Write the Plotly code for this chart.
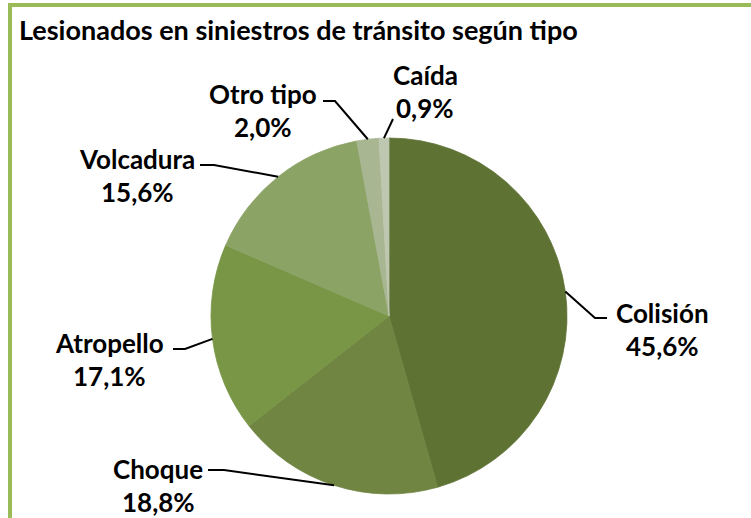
import math
import plotly.graph_objects as go

# ---- data ----
categories = ["Colisión", "Choque", "Atropello", "Volcadura", "Otro tipo", "Caída"]
values = [45.6, 18.8, 17.1, 15.6, 2.0, 0.9]
colors = ["#5E7234", "#708542", "#799646", "#8BA365", "#A8B692", "#BEC7AF"]
title_text = "Lesionados en siniestros de tránsito según tipo"

# ---- layout (pixels) ----
W, H = 751, 518
CX, CY, R = 389, 316, 178          # pie centre / radius in px (from top)
# label block centres (name line) and leader elbow / label-end points
label_pos = [(662, 313), (158, 469), (110, 343), (137, 159), (263, 94), (425, 75)]
leader_pts = [
    [(607, 318), (595, 318)],
    [(208, 470), (224, 470)],
    [(173, 349), (185, 349)],
    [(200, 165), (214, 165)],
    [(323, 101), (335, 101)],
    [(393, 119)],
]
LINE_GAP = 33
FONT = "Lato"
FSIZE = 26
TITLE_SIZE = 27

def px(x):
    return x / W

def py(y):
    return 1 - y / H

fig = go.Figure(go.Pie(
    labels=categories,
    values=values,
    sort=False,
    direction="clockwise",
    rotation=0,
    marker=dict(colors=colors, line=dict(color=colors, width=0.8)),
    textinfo="none",
    hoverinfo="label+percent",
    domain=dict(x=[px(CX - R), px(CX + R)], y=[py(CY + R), py(CY - R)]),
    showlegend=False,
))

annotations = []
shapes = []

# frame
frame_col = "#9BBB59"
shapes.append(dict(type="rect", xref="paper", yref="paper",
                   x0=px(8), x1=px(W), y0=py(7), y1=py(3),
                   fillcolor=frame_col, line=dict(width=0), layer="below"))
shapes.append(dict(type="rect", xref="paper", yref="paper",
                   x0=px(8), x1=px(12), y0=py(H), y1=py(3),
                   fillcolor=frame_col, line=dict(width=0), layer="below"))

# title
annotations.append(dict(text=f"<b>{title_text}</b>", xref="paper", yref="paper",
                        x=px(17), y=py(30), xanchor="left", yanchor="middle",
                        showarrow=False, font=dict(family=FONT, size=TITLE_SIZE, color="#000")))

total = sum(values)
cum = 0.0
for i, (cat, v) in enumerate(zip(categories, values)):
    mid = (cum + v / 2) / total * 2 * math.pi
    cum += v
    ex = CX + R * math.sin(mid)
    ey = CY - R * math.cos(mid)
    pts = leader_pts[i] + [(ex, ey)]
    path = "M " + " L ".join(f"{px(x):.5f},{py(y):.5f}" for x, y in pts)
    shapes.append(dict(type="path", xref="paper", yref="paper", path=path,
                       line=dict(color="#000", width=2)))
    lx, ly = label_pos[i]
    pct = f"{v:.1f}".replace(".", ",") + "%"
    annotations.append(dict(text=f"<b>{cat}</b>", xref="paper", yref="paper",
                            x=px(lx), y=py(ly), xanchor="center", yanchor="middle",
                            showarrow=False, font=dict(family=FONT, size=FSIZE, color="#000")))
    annotations.append(dict(text=f"<b>{pct}</b>", xref="paper", yref="paper",
                            x=px(lx), y=py(ly + LINE_GAP), xanchor="center", yanchor="middle",
                            showarrow=False, font=dict(family=FONT, size=FSIZE, color="#000")))

fig.update_layout(
    width=W, height=H,
    margin=dict(l=0, r=0, t=0, b=0),
    paper_bgcolor="white",
    plot_bgcolor="white",
    annotations=annotations,
    shapes=shapes,
)

fig.write_html("out.html", config={"displayModeBar": False},
               post_script="document.body.style.margin='0';document.body.style.padding='0';")
